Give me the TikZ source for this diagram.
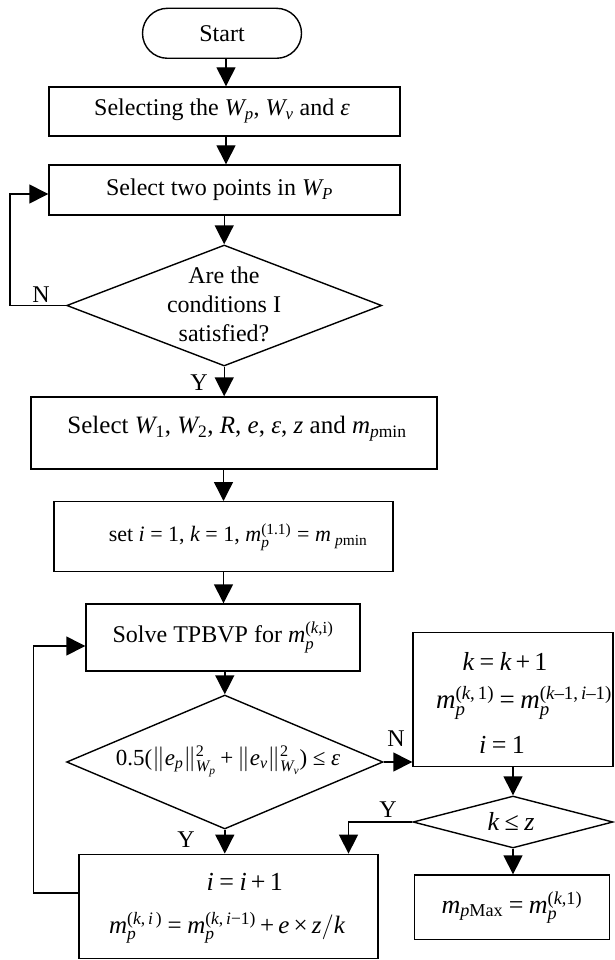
\documentclass[tikz,border=0pt]{standalone}
\usepackage[no-math]{fontspec}
\setmainfont{Liberation Serif}
\DeclareSymbolFont{tletters}{TU}{\rmdefault}{m}{it}
\DeclareSymbolFont{tupright}{TU}{\rmdefault}{m}{n}
\DeclareMathAlphabet{\mathtr}{TU}{\rmdefault}{m}{n}
\DeclareMathSymbol{e}{\mathalpha}{tletters}{`e}
\DeclareMathSymbol{i}{\mathalpha}{tletters}{`i}
\DeclareMathSymbol{k}{\mathalpha}{tletters}{`k}
\DeclareMathSymbol{m}{\mathalpha}{tletters}{`m}
\DeclareMathSymbol{p}{\mathalpha}{tletters}{`p}
\DeclareMathSymbol{v}{\mathalpha}{tletters}{`v}
\DeclareMathSymbol{z}{\mathalpha}{tletters}{`z}
\DeclareMathSymbol{R}{\mathalpha}{tletters}{`R}
\DeclareMathSymbol{W}{\mathalpha}{tletters}{`W}
\DeclareMathSymbol{P}{\mathalpha}{tletters}{`P}
\DeclareMathSymbol{0}{\mathalpha}{tupright}{`0}
\DeclareMathSymbol{1}{\mathalpha}{tupright}{`1}
\DeclareMathSymbol{2}{\mathalpha}{tupright}{`2}
\DeclareMathSymbol{5}{\mathalpha}{tupright}{`5}
\DeclareMathSymbol{=}{\mathrel}{tupright}{`=}
\DeclareMathSymbol{+}{\mathbin}{tupright}{`+}
\DeclareMathSymbol{(}{\mathopen}{tupright}{`(}
\DeclareMathSymbol{)}{\mathclose}{tupright}{`)}
\DeclareMathSymbol{,}{\mathpunct}{tupright}{`,}
\DeclareMathSymbol{.}{\mathord}{tupright}{`.}
\Umathchardef\ndash="0 \symtupright "2013\relax
\Umathchardef\tminus="2 \symtupright "2212\relax
\Umathchardef\ttimes="2 \symtupright "00D7\relax
\Umathchardef\tle="3 \symtupright "2264\relax
\Umathchardef\teps="0 \symtletters "03B5\relax
\newcommand\tightmath{\medmuskip=3mu\relax\thickmuskip=4mu\relax}
\usetikzlibrary{arrows.meta,shapes.geometric,calc}
\begin{document}
\begin{tikzpicture}[x=1pt,y=1pt,
  every node/.style={font=\fontsize{24}{29}\selectfont, inner sep=0pt},
  mbig/.style={font=\fontsize{26}{31}\selectfont},
  box/.style={draw, line width=1.4pt, rectangle, inner sep=0pt},
  dia/.style={draw, line width=1.4pt, diamond, inner sep=0pt},
  term/.style={draw, line width=1.4pt, rectangle, rounded corners=25pt, inner sep=0pt},
  arr/.style={line width=1.4pt, -{Triangle[length=19pt,width=19pt]}},
  lbl/.style={font=\fontsize{24}{29}\selectfont}]
\useasboundingbox (0,0) rectangle (614,-960);
% nodes
\node[term, minimum width=159pt, minimum height=50pt] (start) at (222,-33.3) {Start};
\node[box, minimum width=351pt, minimum height=49pt] (b1) at (224.5,-111.5) {};
\node (b1t) at (222,-111) {Selecting the $W_p$, $W_v$ and $\teps$};
\node[box, minimum width=351pt, minimum height=50pt] (b2) at (224.5,-190) {};
\node (b2t) at (219.5,-190) {Select two points in $W_P$};
\node[dia, minimum width=315pt, minimum height=121pt] (d1) at (224.2,-305.5) {};
\node[align=center] (d1t) at (224,-304) {Are the\\conditions I\\satisfied?};
\node[box, minimum width=406pt, minimum height=72pt] (b3) at (234,-433) {};
\node[font=\fontsize{25}{30}\selectfont] (b3t) at (237,-429) {Select $W_1$, $W_2$, $R$, $e$, $\teps$, $z$ and $m_{p\mathtr{min}}$};
\node[box, minimum width=339pt, minimum height=70pt] (b4) at (223.5,-536.7) {};
\node[font=\fontsize{22}{26}\selectfont] (b4t) at (238,-537) {set $i$ = 1, $k$ = 1, $m_p^{(1.1)} = m_{\;p\mathtr{min}}$};
\node[box, minimum width=274pt, minimum height=67pt] (b5) at (223,-637.5) {Solve TPBVP for $m_p^{(k,\mathtr{i})}$};
\node[dia, minimum width=316.4pt, minimum height=134pt] (d2) at (224.8,-762) {};
\node[font=\fontsize{23}{28}\selectfont] (d2t) at (228,-761) {$\tightmath 0.5(\|e_p\|_{W_p}^2 +\|e_v\|_{W_v}^2) \tle \teps$};
\node[box, minimum width=200pt, minimum height=134pt] (b7) at (513,-699.7) {};
\node[mbig] (b7a) at (505,-661) {$\tightmath k = k + 1$};
\node[font=\fontsize{27}{32}\selectfont] (b7b) at (524,-703) {$\tightmath m_p^{(k,\,1)} = m_p^{(k\ndash1,\,i\ndash1)}$};
\node[mbig] (b7c) at (502,-745) {$\tightmath i = 1$};
\node[dia, minimum width=200pt, minimum height=52pt] (d3) at (513,-822) {};
\node[mbig] (d3t) at (511,-821) {$\tightmath k \tle z$};
\node[box, minimum width=195pt, minimum height=64.5pt, mbig] (b8) at (511.8,-907.3) {$\tightmath m_{p\mathtr{Max}} = m_p^{(k,1)}$};
\node[box, minimum width=299pt, minimum height=104pt] (b6) at (228.5,-906.3) {};
\node[mbig] (b6a) at (244.7,-882) {$\tightmath i = i + 1$};
\node[font=\fontsize{25}{30}\selectfont] (b6b) at (227,-928) {$\tightmath m_p^{(k,\,i\,)} = m_p^{(k,\,i\tminus1)} + e \ttimes z/k$};
% labels
\node[lbl] (n1) at (41,-295) {N};
\node[lbl] (y1) at (199,-383) {Y};
\node[lbl] (n2) at (396,-739) {N};
\node[lbl] (y2) at (186,-840) {Y};
\node[lbl] (y3) at (388,-810) {Y};
% helper coordinates
\coordinate (ax) at (223.5,0);
\coordinate (ax1) at (226,0);
\coordinate (yb) at (348.5,0);
\coordinate (l1) at (9.8,-194);
\coordinate (l2a) at (33.5,-893);
\coordinate (l2b) at (33.5,-646);
% connectors
\draw[arr] (start.south -| ax1) -- (b1.north -| ax1);
\draw[arr] (b1.south -| ax1) -- (b2.north -| ax1);
\draw[arr] (b2.south -| d1.north) -- (d1.north);
\draw[arr] (d1.south) -- (d1.south |- b3.north);
\draw[arr] (b3.south -| ax) -- (b4.north -| ax);
\draw[arr] (b4.south -| ax) -- (b5.north -| ax);
\draw[arr] (b5.south -| d2.north) -- (d2.north);
\draw[arr] (d2.south) -- (d2.south |- b6.north);
\draw[arr] (d2.east) -- (d2.east -| b7.west);
\draw[arr] (b7.south -| d3.north) -- (d3.north);
\draw[arr] (d3.south) -- (d3.south |- b8.north);
\draw[arr] (d3.west) -| (yb |- b6.north);
\draw[arr] (d1.west) -| (l1) -- (l1 -| b2.west);
\draw[arr] (b6.west |- l2a) -- (l2a) -- (l2b) -- (l2b -| b5.west);
\end{tikzpicture}
\end{document}
